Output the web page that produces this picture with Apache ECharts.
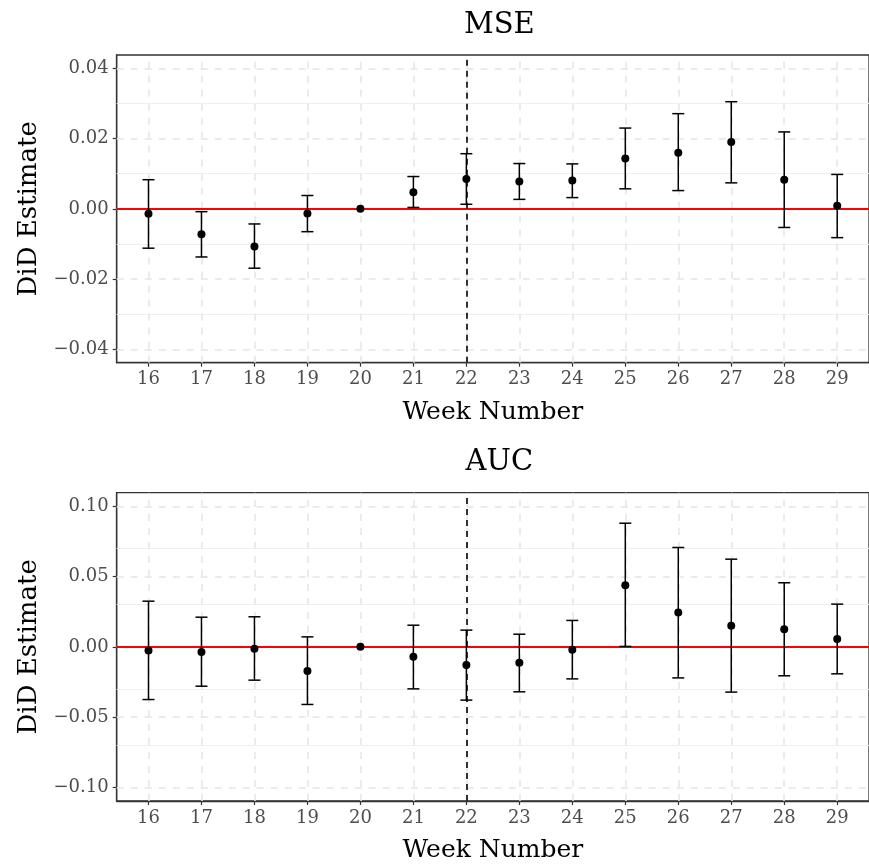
<!DOCTYPE html>
<html>
<head>
<meta charset="utf-8">
<script src="https://cdn.jsdelivr.net/npm/echarts@6/dist/echarts.min.js"></script>
<style>html,body{margin:0;padding:0;background:#fff;}#c{width:869px;height:867px;}</style>
</head>
<body>
<div id="c"></div>
<script>
const weeks = [16,17,18,19,20,21,22,23,24,25,26,27,28,29];
const mseEst = [-0.0014,-0.0072,-0.0107,-0.0013,0,0.0047,0.0085,0.0078,0.0081,0.0143,0.0160,0.0190,0.0083,0.0009];
const mseLo  = [-0.0112,-0.0137,-0.0169,-0.0065,null,0.0004,0.0013,0.0027,0.0032,0.0057,0.0052,0.0074,-0.0053,-0.0082];
const mseHi  = [0.0083,-0.0008,-0.0043,0.0038,null,0.0092,0.0157,0.0129,0.0128,0.0230,0.0271,0.0305,0.0219,0.0098];
const aucEst = [-0.0026,-0.0036,-0.0014,-0.0171,0,-0.0071,-0.0130,-0.0114,-0.0021,0.0439,0.0245,0.0150,0.0126,0.0055];
const aucLo  = [-0.0375,-0.0280,-0.0237,-0.0410,null,-0.0299,-0.0379,-0.0320,-0.0228,0.0003,-0.0221,-0.0322,-0.0206,-0.0192];
const aucHi  = [0.0325,0.0211,0.0214,0.0071,null,0.0154,0.0119,0.0090,0.0188,0.0880,0.0707,0.0624,0.0456,0.0304];
const mseMajor = [-0.04,-0.02,0,0.02,0.04];
const mseMinor = [-0.03,-0.01,0.01,0.03];
const aucMajor = [-0.10,-0.05,0,0.05,0.10];
const aucMinor = [-0.075,-0.025,0.025,0.075];
const treatWeek = 22;
const titles = ['MSE','AUC'];

const FONT = 'DejaVu Serif';
const chart = echarts.init(document.getElementById('c'));

const grids = [
  {left:116.7, top:55, width:755.3, height:307.7},
  {left:116.7, top:492.7, width:755.3, height:308.3}
];
const yRanges = [[-0.0438,0.0438],[-0.1097,0.1097]];
const majors = [mseMajor, aucMajor];
const minors = [mseMinor, aucMinor];
const ests = [mseEst, aucEst];
const los = [mseLo, aucLo];
const his = [mseHi, aucHi];

function fmt(v){
  const s = Math.abs(v).toFixed(2);
  return v < -1e-9 ? '\u2212' + s : s;
}

const option = {
  animation:false,
  backgroundColor:'#fff',
  title: titles.map((t,i)=>({
    text:t, left:494.3, top: i===0 ? 6 : 443, textAlign:'center',
    textStyle:{fontFamily:FONT, fontSize:29, fontWeight:'normal', color:'#000'}
  })),
  grid: grids.map(g=>Object.assign({show:true, borderColor:'#333', borderWidth:1.3, backgroundColor:'#fff'}, g)),
  xAxis: grids.map((g,i)=>({
    type:'value', gridIndex:i, min:15.4, max:29.6,
    name:'Week Number', nameLocation:'middle', nameGap:37,
    nameTextStyle:{fontFamily:FONT, fontSize:25, color:'#000'},
    axisLine:{show:true, onZero:false, lineStyle:{color:'#333', width:1.3}},
    axisTick:{show:true, length:4, customValues:weeks, lineStyle:{color:'#333', width:1.2}},
    axisLabel:{customValues:weeks, margin:8, fontFamily:FONT, fontSize:18, color:'#4d4d4d'},
    splitLine:{show:false}
  })),
  yAxis: grids.map((g,i)=>({
    type:'value', gridIndex:i, min:yRanges[i][0], max:yRanges[i][1],
    name:'DiD Estimate', nameLocation:'middle', nameGap:61,
    nameTextStyle:{fontFamily:FONT, fontSize:26, color:'#000'},
    axisLine:{show:true, onZero:false, lineStyle:{color:'#333', width:1.3}},
    axisTick:{show:true, length:4, customValues:majors[i], lineStyle:{color:'#333', width:1.2}},
    axisLabel:{customValues:majors[i], margin:8, fontFamily:FONT, fontSize:18, color:'#4d4d4d', formatter:fmt},
    splitLine:{show:false}
  })),
  series: []
};

for (let i=0;i<2;i++){
  option.series.push({
    type:'line', xAxisIndex:i, yAxisIndex:i, data:[], silent:true, z:1,
    markLine:{silent:true, z:1, symbol:'none', label:{show:false}, animation:false,
      lineStyle:{color:'#efefef', width:1, type:'solid'},
      data: minors[i].map(v=>({yAxis:v}))}
  });
  option.series.push({
    type:'line', xAxisIndex:i, yAxisIndex:i, data:[], silent:true, z:2,
    markLine:{silent:true, z:2, symbol:'none', label:{show:false}, animation:false,
      lineStyle:{color:'#e6e6e6', width:1.6, type:[7,7]},
      data: majors[i].map(v=>({yAxis:v})).concat(weeks.map(w=>({xAxis:w})))}
  });
  option.series.push({
    type:'line', xAxisIndex:i, yAxisIndex:i, data:[], silent:true, z:3,
    markLine:{silent:true, z:3, symbol:'none', label:{show:false}, animation:false,
      data:[
        {yAxis:0, lineStyle:{color:'#ff0000', width:1.8, type:'solid'}},
        {xAxis:treatWeek, lineStyle:{color:'#000', width:1.6, type:[6,5]}}
      ]}
  });
  const ebData = [];
  weeks.forEach((w,k)=>{ if (los[i][k]!==null && his[i][k]!==null) ebData.push([w, los[i][k], his[i][k]]); });
  option.series.push({
    type:'custom', xAxisIndex:i, yAxisIndex:i, z:10, silent:true,
    data: ebData,
    renderItem: function(params, api){
      const x = api.value(0);
      const pLo = api.coord([x, api.value(1)]);
      const pHi = api.coord([x, api.value(2)]);
      const hw = 6;
      const st = {stroke:'#000', lineWidth:1.5, fill:null};
      return {type:'group', children:[
        {type:'line', shape:{x1:pLo[0], y1:pLo[1], x2:pHi[0], y2:pHi[1]}, style:st},
        {type:'line', shape:{x1:pLo[0]-hw, y1:pLo[1], x2:pLo[0]+hw, y2:pLo[1]}, style:st},
        {type:'line', shape:{x1:pHi[0]-hw, y1:pHi[1], x2:pHi[0]+hw, y2:pHi[1]}, style:st}
      ]};
    }
  });
  option.series.push({
    type:'scatter', xAxisIndex:i, yAxisIndex:i, z:11, silent:true,
    symbol:'circle', symbolSize:8, itemStyle:{color:'#000', opacity:1},
    data: weeks.map((w,k)=>[w, ests[i][k]])
  });
}

chart.setOption(option);
</script>
</body>
</html>
